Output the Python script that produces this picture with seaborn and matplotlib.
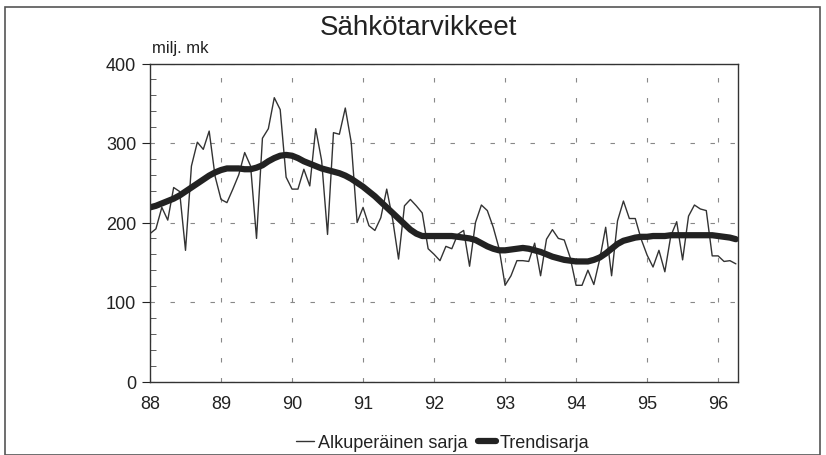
import numpy as np
import pandas as pd
import seaborn as sns
from matplotlib import pyplot as plt
from matplotlib.patches import Rectangle
from matplotlib.ticker import MultipleLocator

# monthly values, Jan 1988 - Apr 1996 (milj. mk)
alkuperainen = [186, 192, 219, 203, 244, 239, 165, 271, 301, 292, 315, 258,
                229, 225, 242, 260, 288, 271, 180, 306, 318, 357, 342, 257,
                242, 242, 267, 246, 318, 278, 185, 313, 311, 344, 301, 200,
                219, 196, 190, 206, 242, 204, 154, 221, 229, 221, 212, 167,
                160, 152, 170, 167, 185, 190, 145, 200, 222, 215, 194, 167,
                121, 133, 152, 152, 151, 174, 133, 179, 191, 180, 178, 156,
                121, 121, 140, 122, 154, 194, 133, 202, 227, 205, 205, 179,
                159, 144, 165, 138, 183, 201, 153, 208, 222, 217, 215, 158,
                158, 151, 152, 148]
trendi = [219, 221, 224, 227, 230, 234, 239, 244, 249, 254, 259, 263,
          266, 268, 268, 268, 267, 267, 269, 272, 277, 281, 284, 285,
          284, 281, 277, 274, 271, 268, 266, 264, 262, 259, 255, 250,
          245, 239, 233, 226, 219, 212, 205, 198, 191, 186, 183, 183,
          183, 183, 183, 183, 182, 181, 180, 178, 174, 170, 167, 165,
          165, 166, 167, 168, 167, 165, 163, 160, 157, 155, 153, 152,
          151, 151, 151, 153, 156, 161, 167, 173, 177, 179, 181, 182,
          182, 183, 183, 183, 184, 184, 184, 184, 184, 184, 184, 184,
          183, 182, 181, 179]
vuodet = [88, 89, 90, 91, 92, 93, 94, 95, 96]

df = pd.DataFrame({
    'aika': 88 + np.arange(len(alkuperainen)) / 12,
    'Alkuperäinen sarja': alkuperainen,
    'Trendisarja': trendi,
})

sns.set_style('white')
plt.rcParams['font.family'] = ['Liberation Sans Narrow', 'Liberation Sans', 'DejaVu Sans']

fig = plt.figure(figsize=(8.26, 4.56), dpi=100)
ax = fig.add_axes([150 / 826, 1 - 382.5 / 456, 588 / 826, 318 / 456])

sns.lineplot(data=df, x='aika', y='Alkuperäinen sarja', ax=ax, color='#333333',
             lw=1.0, label='Alkuperäinen sarja')
sns.lineplot(data=df, x='aika', y='Trendisarja', ax=ax, color='#222222',
             lw=4.5, label='Trendisarja')

ax.set_xlim(88, 96.28)
ax.set_ylim(0, 400)
ax.set_xticks(vuodet)
ax.set_xticklabels([str(v) for v in vuodet])
ax.set_yticks([0, 100, 200, 300, 400])
ax.yaxis.set_minor_locator(MultipleLocator(20))
ax.set_xlabel('')
ax.set_ylabel('')

ax.grid(True, which='major', color='#888888', lw=0.8, ls=(0, (4, 14)))
for s in ax.spines.values():
    s.set_color('#333333')
    s.set_linewidth(1.0)
ax.tick_params(axis='x', which='major', direction='inout', length=8, width=0.8,
               labelsize=13, pad=6, colors='#222222')
ax.tick_params(axis='y', which='major', direction='out', length=6, width=0.8,
               labelsize=13, pad=4, colors='#222222', left=True)
ax.tick_params(axis='y', which='minor', direction='in', length=4, width=0.6,
               left=True, colors='#444444')

fig.text(418 / 826, 1 - 28 / 456, 'Sähkötarvikkeet', ha='center', va='center',
         fontsize=20, color='#222222')
fig.text(152 / 826, 1 - 49 / 456, 'milj. mk', ha='left', va='center',
         fontsize=12, color='#222222')

leg = ax.legend(loc='center', bbox_to_anchor=(443 / 826, 1 - 444 / 456),
                bbox_transform=fig.transFigure, ncol=2, frameon=False,
                fontsize=13, handlelength=1.0, handletextpad=0.2,
                columnspacing=0.6)
for t in leg.get_texts():
    t.set_color('#222222')

fig.patches.append(Rectangle((5 / 826, 0.0), 815 / 826, 1 - 8 / 456,
                             transform=fig.transFigure, fill=False,
                             edgecolor='#555555', lw=1.2))

plt.savefig('out.png', dpi=100)
